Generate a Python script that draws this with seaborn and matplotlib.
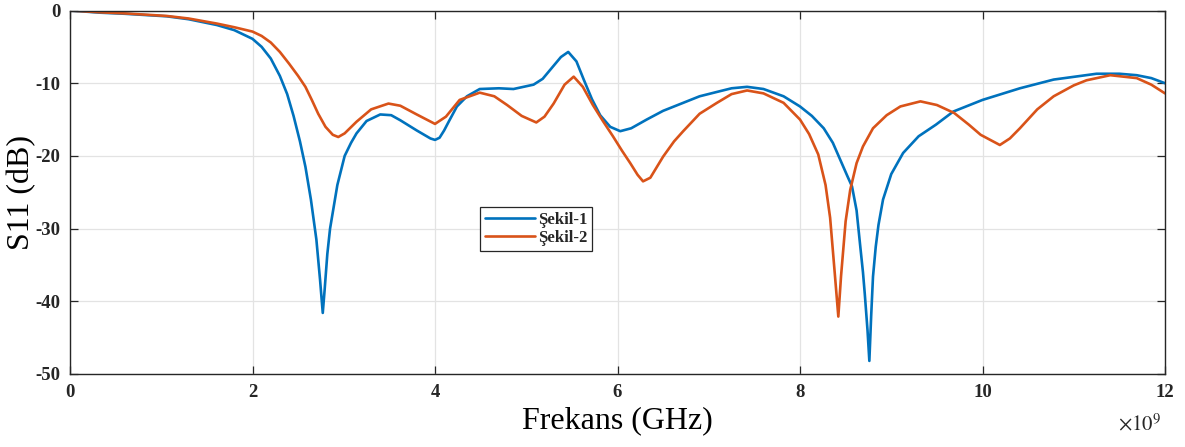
import numpy as np
import pandas as pd
import matplotlib
matplotlib.use("Agg")
import matplotlib.pyplot as plt
import seaborn as sns
from matplotlib.ticker import FuncFormatter

# ---- data (frequency in GHz, S11 in dB) ----
freq1_ghz = [0.0, 0.33, 0.6, 1.06, 1.3, 1.61, 1.8, 2.0, 2.1, 2.2, 2.3, 2.38, 2.45, 2.52, 2.58,
             2.64, 2.70, 2.74, 2.77, 2.79, 2.82, 2.85, 2.93, 3.01, 3.08, 3.14, 3.25, 3.40,
             3.52, 3.62, 3.80, 3.95, 4.00, 4.05, 4.10, 4.15, 4.24, 4.35, 4.49, 4.70, 4.86, 5.08, 5.18,
             5.26, 5.38, 5.46, 5.55, 5.63, 5.72, 5.81, 5.92, 6.03, 6.15, 6.32, 6.50, 6.72,
             6.90, 7.09, 7.25, 7.42, 7.60, 7.82, 8.00, 8.13, 8.26, 8.36, 8.44, 8.52, 8.57,
             8.62, 8.66, 8.69, 8.71, 8.74, 8.76, 8.78, 8.80, 8.83, 8.86, 8.91, 9.00, 9.13,
             9.30, 9.49, 9.68, 10.00, 10.41, 10.78, 11.25, 11.50, 11.69, 11.85, 12.0]
s11_1_db = [0.0, -0.3, -0.45, -0.8, -1.2, -2.0, -2.7, -3.9, -5.0, -6.6, -9.0, -11.5, -14.5, -18.0, -21.5,
            -26.0, -31.5, -37.0, -41.6, -38.5, -33.5, -30.0, -24.0, -20.0, -18.2, -16.9, -15.2, -14.3,
            -14.4, -15.1, -16.5, -17.6, -17.8, -17.5, -16.5, -15.3, -13.2, -11.8, -10.8, -10.7, -10.8, -10.2, -9.4,
            -8.2, -6.4, -5.7, -7.0, -9.5, -12.2, -14.4, -16.0, -16.6, -16.2, -15.0, -13.8, -12.7,
            -11.8, -11.2, -10.7, -10.5, -10.8, -11.8, -13.2, -14.5, -16.2, -18.2, -20.5, -22.8, -24.2,
            -27.5, -32.4, -36.0, -39.0, -44.0, -48.2, -42.0, -36.6, -32.5, -29.5, -26.0, -22.5, -19.6,
            -17.3, -15.7, -13.9, -12.3, -10.7, -9.5, -8.7, -8.7, -8.9, -9.3, -10.0]

freq2_ghz = [0.0, 0.33, 0.6, 1.06, 1.3, 1.61, 1.8, 2.0, 2.1, 2.2, 2.3, 2.4, 2.5, 2.58, 2.65,
             2.72, 2.8, 2.88, 2.94,
             3.01, 3.14, 3.30, 3.49, 3.62, 3.80, 4.00, 4.12, 4.27, 4.49, 4.65, 4.79, 4.95,
             5.11, 5.20, 5.30, 5.42, 5.52, 5.62, 5.73, 5.84, 5.95, 6.05, 6.14, 6.22, 6.28,
             6.36, 6.50, 6.62, 6.72, 6.90, 7.09, 7.25, 7.42, 7.60, 7.82, 8.00, 8.10, 8.20,
             8.28, 8.33, 8.38, 8.42, 8.45, 8.50, 8.55, 8.62, 8.69, 8.80, 8.95, 9.10, 9.32,
             9.50, 9.69, 9.85, 9.98, 10.19, 10.30, 10.41, 10.60, 10.78, 11.00, 11.14, 11.40,
             11.69, 11.85, 12.0]
s11_2_db = [0.0, -0.25, -0.4, -0.75, -1.1, -1.8, -2.3, -2.9, -3.5, -4.4, -5.7, -7.3, -9.0, -10.5, -12.3,
            -14.2, -16.0, -17.1, -17.4,
            -16.9, -15.3, -13.6, -12.8, -13.1, -14.3, -15.6, -14.6, -12.3, -11.3, -11.8, -13.0, -14.5,
            -15.4, -14.6, -12.8, -10.2, -9.1, -10.5, -13.0, -15.2, -17.3, -19.3, -21.0, -22.6, -23.5,
            -23.0, -20.1, -18.0, -16.6, -14.2, -12.7, -11.5, -11.0, -11.4, -12.7, -15.0, -17.0, -19.8,
            -24.0, -28.5, -36.0, -42.1, -36.5, -29.0, -24.7, -21.0, -18.7, -16.2, -14.4, -13.2, -12.5,
            -13.0, -14.1, -15.7, -17.1, -18.5, -17.6, -16.2, -13.6, -11.8, -10.3, -9.6, -8.9,
            -9.3, -10.2, -11.4]

series_names = ["Şekil-1", "Şekil-2"]
x_ticks_ghz = [0, 2, 4, 6, 8, 10, 12]
y_ticks = [0, -10, -20, -30, -40, -50]

df = pd.concat([
    pd.DataFrame({"Frekans": np.array(freq1_ghz) * 1e9, "S11": s11_1_db, "Seri": series_names[0]}),
    pd.DataFrame({"Frekans": np.array(freq2_ghz) * 1e9, "S11": s11_2_db, "Seri": series_names[1]}),
])

sns.set_theme(style="whitegrid")
plt.rcParams["font.family"] = ["Liberation Serif", "DejaVu Serif"]
plt.rcParams["mathtext.fontset"] = "stix"
plt.rcParams["axes.unicode_minus"] = False

fig = plt.figure(figsize=(11.85, 4.47), dpi=100)
ax = fig.add_axes([70 / 1185, 1 - 374 / 447, 1095 / 1185, (374 - 10.5) / 447])

palette = {series_names[0]: "#0072BD", series_names[1]: "#D95319"}
sns.lineplot(data=df, x="Frekans", y="S11", hue="Seri", palette=palette, ax=ax,
             linewidth=1.9, sort=False, estimator=None)

ax.set_xlim(0, 12e9)
ax.set_ylim(-50, 0)
ax.set_xticks([t * 1e9 for t in x_ticks_ghz])
ax.set_yticks(y_ticks)
ax.xaxis.set_major_formatter(FuncFormatter(lambda v, p: f"{v / 1e9:g}"))
ax.yaxis.set_major_formatter(FuncFormatter(lambda v, p: f"{v:g}"))

ax.set_facecolor("white")
ax.grid(True, color="#e3e3e3", linewidth=0.9)
for sp in ax.spines.values():
    sp.set_visible(True)
    sp.set_color("#262626")
    sp.set_linewidth(1.0)

ax.tick_params(axis="both", which="major", direction="in", length=6, width=0.9,
               color="#262626", top=True, right=True, bottom=True, left=True,
               labelsize=13.5, labelcolor="#262626")
ax.tick_params(axis="x", pad=7)
ax.tick_params(axis="y", pad=7)
for lab in ax.get_xticklabels() + ax.get_yticklabels():
    lab.set_fontweight("bold")

ax.text(0.997, -0.14, r"$\times10^{9}$", transform=ax.transAxes, ha="right", va="center",
        fontsize=15, color="#262626")

ax.set_xlabel("Frekans (GHz)", fontsize=23, labelpad=4, color="black")
ax.set_ylabel("S11 (dB)", fontsize=23, color="black")
ax.yaxis.set_label_coords(-0.031, 0.5)

leg = ax.legend(loc="upper left", bbox_to_anchor=(0.374, 0.46), frameon=True, fancybox=False,
                edgecolor="#262626", framealpha=1, borderpad=0.3, handlelength=3.0,
                handletextpad=0.2, labelspacing=0.15, borderaxespad=0,
                prop={"family": "Liberation Serif", "weight": "bold", "size": 12})
leg.get_frame().set_linewidth(0.9)

fig.savefig("out.png", dpi=100, facecolor="white")
